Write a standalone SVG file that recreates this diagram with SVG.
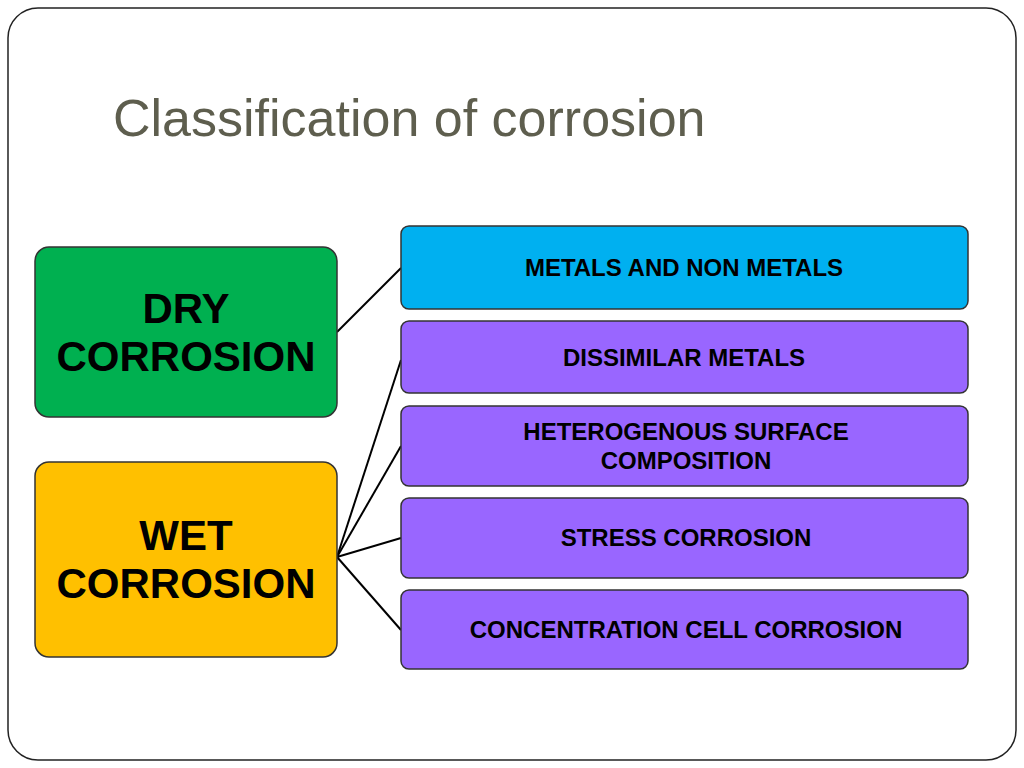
<svg xmlns="http://www.w3.org/2000/svg" width="1024" height="768" viewBox="0 0 1024 768">
<style>
.n{stroke:#333;stroke-width:1.5}
.t{font-family:"Liberation Sans",Arial,sans-serif;font-weight:bold;fill:#000;text-anchor:middle}
.big{font-size:42px}
.sm{font-size:24px}
#connectors line{stroke:#000;stroke-width:2}
</style>
<rect x="0" y="0" width="1024" height="768" fill="#fff"/>
<rect x="8" y="8" width="1008" height="752" rx="30" fill="#fff" stroke="#222" stroke-width="1.5"/>
<text x="113" y="136" font-family="Liberation Sans,Arial,sans-serif" font-size="52" fill="#5e5e4e">Classification of corrosion</text>
<g id="connectors">
<line x1="337" y1="332" x2="401" y2="268"/>
<line x1="337" y1="557" x2="401" y2="360"/>
<line x1="337" y1="557" x2="401" y2="446"/>
<line x1="337" y1="557" x2="401" y2="538"/>
<line x1="337" y1="557" x2="401" y2="630"/>
</g>
<g id="dry"><rect class="n" x="35" y="247" width="302" height="170" rx="14" fill="#00b050"/>
<text class="t big" x="186" y="323">DRY</text><text class="t big" x="186" y="371">CORROSION</text></g>
<g id="wet"><rect class="n" x="35" y="462" width="302" height="195" rx="14" fill="#ffc000"/>
<text class="t big" x="186" y="550">WET</text><text class="t big" x="186" y="598">CORROSION</text></g>
<g id="metals"><rect class="n" x="401" y="226" width="567" height="83" rx="8" fill="#00b0f0"/>
<text class="t sm" x="684" y="276">METALS AND NON METALS</text></g>
<g id="dissimilar"><rect class="n" x="401" y="321" width="567" height="72" rx="8" fill="#9966ff"/>
<text class="t sm" x="684" y="366">DISSIMILAR METALS</text></g>
<g id="hetero"><rect class="n" x="401" y="406" width="567" height="80" rx="8" fill="#9966ff"/>
<text class="t sm" x="686" y="440">HETEROGENOUS SURFACE</text><text class="t sm" x="686" y="469">COMPOSITION</text></g>
<g id="stress"><rect class="n" x="401" y="498" width="567" height="80" rx="8" fill="#9966ff"/>
<text class="t sm" x="686" y="546">STRESS CORROSION</text></g>
<g id="concentration"><rect class="n" x="401" y="590" width="567" height="79" rx="8" fill="#9966ff"/>
<text class="t sm" x="686" y="638">CONCENTRATION CELL CORROSION</text></g>
</svg>
